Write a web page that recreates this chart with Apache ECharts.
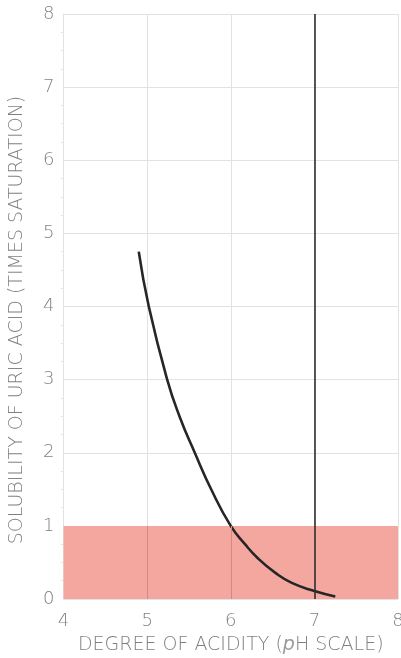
<!DOCTYPE html>
<html>
<head>
<meta charset="utf-8">
<style>
  html, body { margin: 0; padding: 0; background: #fff; }
  #chart { width: 401px; height: 658px; }
</style>
<script src="https://cdn.jsdelivr.net/npm/echarts@6/dist/echarts.min.js"></script>
</head>
<body>
<div id="chart"></div>
<script>
// Solubility of uric acid versus pH
const phValues = [4.90, 5.02, 5.24, 5.39, 5.57, 5.77, 6.00, 6.17, 6.33, 6.53, 6.73, 7.00, 7.25];
const solubility = [4.75, 4.00, 3.00, 2.49, 2.00, 1.49, 1.00, 0.75, 0.55, 0.36, 0.22, 0.11, 0.035];
const xTicks = [4, 5, 6, 7, 8];
const yTicks = [0, 1, 2, 3, 4, 5, 6, 7, 8];
const saturationLevel = 1;   // upper edge of the shaded band
const neutralPh = 7;          // vertical reference line
const bandGridX = [5, 6];     // grid lines that show through the band

const textColor = '#808080';
const fontFamily = '"DejaVu Sans", "Liberation Sans", sans-serif';

const chart = echarts.init(document.getElementById('chart'), null, { renderer: 'canvas' });

chart.setOption({
  animation: false,
  backgroundColor: '#ffffff',
  grid: { left: 63.5, right: 3, top: 14, bottom: 59, outerBoundsMode: 'none', containLabel: false },
  xAxis: {
    type: 'value',
    min: xTicks[0],
    max: xTicks[xTicks.length - 1],
    interval: 1,
    name: 'DEGREE OF ACIDITY ({i|p}H SCALE)',
    nameLocation: 'middle',
    nameGap: 37,
    nameTextStyle: {
      color: textColor, fontSize: 19, fontFamily, fontWeight: 200,
      rich: { i: { fontStyle: 'italic', color: '#9a9a9a', fontSize: 19, fontFamily, fontWeight: 200 } }
    },
    axisLine: { show: false },
    axisTick: { show: false },
    axisLabel: { color: textColor, fontSize: 18, fontFamily, fontWeight: 200, margin: 13 },
    splitLine: { show: true, lineStyle: { color: '#e2e2e2', width: 1 } }
  },
  yAxis: {
    type: 'value',
    min: yTicks[0],
    max: yTicks[yTicks.length - 1],
    interval: 1,
    axisLine: { show: true, lineStyle: { color: '#e2e2e2' } },
    axisTick: { show: false },
    minorTick: { show: true, splitNumber: 4, length: 3, lineStyle: { color: '#e8e8e8' } },
    axisLabel: { color: textColor, fontSize: 18, fontFamily, fontWeight: 200, margin: 9 },
    splitLine: { show: true, lineStyle: { color: '#e2e2e2', width: 1 } }
  },
  graphic: [{
    type: 'text',
    x: 17,
    y: 320,
    rotation: Math.PI / 2,
    style: {
      text: 'SOLUBILITY OF URIC ACID (TIMES SATURATION)',
      fill: textColor,
      font: '200 19px ' + fontFamily,
      textAlign: 'center',
      textVerticalAlign: 'middle'
    }
  }],
  series: [
    {
      // shaded band below saturation, with grid lines showing through
      type: 'line',
      data: [],
      silent: true,
      z: 1,
      markArea: {
        silent: true,
        itemStyle: { color: '#f4a79e' },
        data: [[{ xAxis: xTicks[0], yAxis: 0 }, { xAxis: xTicks[xTicks.length - 1], yAxis: saturationLevel }]]
      },
      markLine: {
        silent: true,
        symbol: 'none',
        label: { show: false },
        lineStyle: { color: '#cf8a82', width: 1, type: 'solid' },
        data: bandGridX.map(x => [{ coord: [x, 0] }, { coord: [x, saturationLevel] }])
      }
    },
    {
      type: 'line',
      data: [],
      silent: true,
      z: 3,
      markLine: {
        silent: true,
        symbol: 'none',
        label: { show: false },
        lineStyle: { color: '#2e2e2e', width: 1.6, type: 'solid' },
        data: [{ xAxis: neutralPh }]
      }
    },
    {
      type: 'line',
      data: phValues.map((x, i) => [x, solubility[i]]),
      smooth: 0.5,
      showSymbol: false,
      symbol: 'none',
      z: 4,
      lineStyle: { color: '#262626', width: 2.6 }
    }
  ]
});
</script>
</body>
</html>
